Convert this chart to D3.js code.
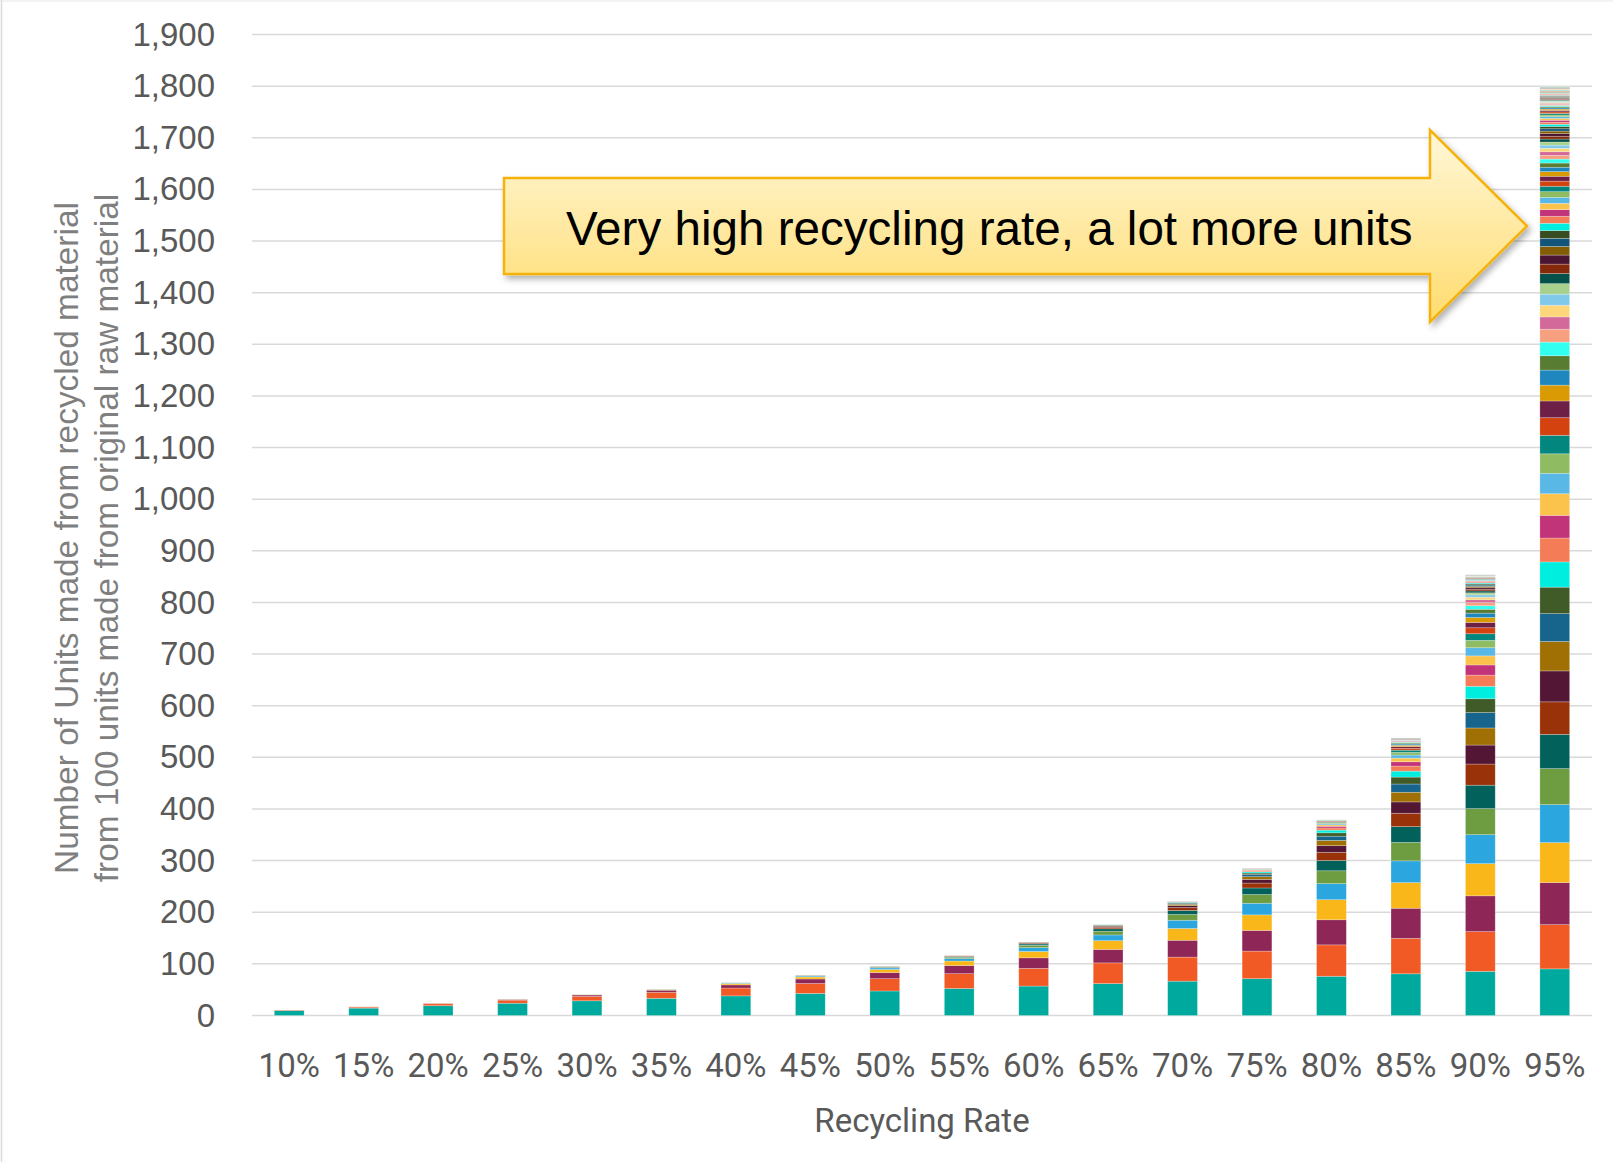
<!DOCTYPE html>
<html>
<head>
<meta charset="utf-8">
<script src="https://cdn.jsdelivr.net/npm/d3@7"></script>
<style>
  body { margin: 0; background: #fff; }
  svg { display: block; }
</style>
</head>
<body>
<svg id="chart"></svg>
<script>
// recycling rates (x categories)
const rates = ["10%", "15%", "20%", "25%", "30%", "35%", "40%", "45%", "50%",
               "55%", "60%", "65%", "70%", "75%", "80%", "85%", "90%", "95%"];

// units made in each recycling round, bottom segment first
const r10 = [9.5, 1.0, 0.1];
const r15 = [14.3, 2.1, 0.3, 0.05];
const r20 = [19, 3.8, 0.8, 0.2];
const r25 = [23.8, 5.9, 1.5, 0.4, 0.1];
const r30 = [28.5, 8.6, 2.6, 0.8, 0.2, 0.1];
const r35 = [33.3, 11.6, 4.1, 1.4, 0.5, 0.2];
const r40 = [38, 15.2, 6.1, 2.4, 1.0, 0.4, 0.2];
const r45 = [42.8, 19.2, 8.7, 3.9, 1.8, 0.8, 0.4, 0.2];
const r50 = [47.5, 23.8, 11.9, 5.9, 3.0, 1.5, 0.7, 0.4, 0.2];
const r55 = [52.3, 28.7, 15.8, 8.7, 4.8, 2.6, 1.4, 0.8, 0.4, 0.2];
const r60 = [57, 34.2, 20.5, 12.3, 7.4, 4.4, 2.7, 1.6, 1.0, 0.6, 0.3, 0.2];
const r65 = [61.8, 40.1, 26.1, 17.0, 11.0, 7.2, 4.7, 3.0, 2.0, 1.3, 0.8, 0.5, 0.4, 0.2];
const r70 = [66.5, 46.6, 32.6, 22.8, 16.0, 11.2, 7.8, 5.5, 3.8, 2.7, 1.9, 1.3, 0.9, 0.6, 0.5, 0.3, 0.2];
const r75 = [71.3, 53.4, 40.1, 30.1, 22.5, 16.9, 12.7, 9.5, 7.1, 5.3, 4.0, 3.0, 2.3, 1.7, 1.3, 1.0,
             0.7, 0.5, 0.4, 0.3, 0.2];
const r80 = [76, 60.8, 48.6, 38.9, 31.1, 24.9, 19.9, 15.9, 12.8, 10.2, 8.2, 6.5, 5.2, 4.2, 3.3, 2.7,
             2.1, 1.7, 1.4, 1.1, 0.9, 0.7, 0.6, 0.5, 0.4, 0.3];
const r85 = [80.8, 68.6, 58.3, 49.6, 42.2, 35.8, 30.5, 25.9, 22.0, 18.7, 15.9, 13.5, 11.5, 9.8, 8.3,
             7.1, 6.0, 5.1, 4.3, 3.7, 3.1, 2.7, 2.3, 1.9, 1.6, 1.4, 1.2, 1.0, 0.9, 0.7, 0.6, 0.5,
             0.4, 0.4, 0.3];
const r90 = [85.5, 77.0, 69.3, 62.3, 56.1, 50.5, 45.4, 40.9, 36.8, 33.1, 29.8, 26.8, 24.1, 21.7,
             19.6, 17.6, 15.8, 14.3, 12.8, 11.6, 10.4, 9.4, 8.4, 7.6, 6.8, 6.1, 5.5, 5.0, 4.5, 4.0,
             3.6, 3.3, 2.9, 2.6, 2.4, 2.1, 1.9, 1.7, 1.6, 1.4, 1.3, 1.1, 1.0, 0.9, 0.8, 0.7, 0.7,
             0.6, 0.5, 0.5, 0.4, 0.4, 0.4, 0.3, 0.3, 0.3, 0.2, 0.2, 0.2, 0.2, 0.2, 0.1];
const r95 = [90.3, 85.7, 81.5, 77.4, 73.5, 69.8, 66.3, 63.0, 59.9, 56.9, 54.0, 51.3, 48.8, 46.3,
             44.0, 41.8, 39.7, 37.7, 35.8, 34.1, 32.4, 30.7, 29.2, 27.7, 26.4, 25.0, 23.8, 22.6,
             21.5, 20.4, 19.4, 18.4, 17.5, 16.6, 15.8, 15.0, 14.2, 13.5, 12.9, 12.2, 11.6, 11.0,
             10.5, 9.9, 9.4, 9.0, 8.5, 8.1, 7.7, 7.3, 6.9, 6.6, 6.3, 6.0, 5.7, 5.4, 5.1, 4.9, 4.6,
             4.4, 4.2, 4.0, 3.8, 3.6, 3.4, 3.2, 3.1, 2.9, 2.8, 2.6, 2.5, 2.4, 2.2, 2.1, 2.0, 1.9,
             1.8, 1.7, 1.7, 1.6, 1.5, 1.4, 1.3, 1.3, 1.2, 1.2, 1.1, 1.0, 1.0, 0.9, 0.9, 0.8, 0.8,
             0.8, 0.7, 0.7, 0.7, 0.6, 0.6, 0.6, 0.5, 0.5, 0.5, 0.5, 0.4, 0.4, 0.4, 0.4, 0.3, 0.3,
             0.3, 0.3, 0.3, 0.3];

const stacks = [r10, r15, r20, r25, r30, r35, r40, r45, r50,
                r55, r60, r65, r70, r75, r80, r85, r90, r95];

const yTicks = [0, 100, 200, 300, 400, 500, 600, 700, 800, 900, 1000,
                1100, 1200, 1300, 1400, 1500, 1600, 1700, 1800, 1900];

// office-like series colours: base, darker, lighter, ...
const palette = [
  "#00a99d", "#f15a24", "#8e2757", "#f9b719", "#2ba6df", "#6e9c40",
  "#02625b", "#9a3209", "#531735", "#a07004", "#17648c", "#415b28",
  "#00eedf", "#f47c56", "#c2347a", "#fbc34c", "#59b8e6", "#8fbc62",
  "#03867d", "#d4430f", "#6e1f46", "#d99a04", "#1f87be", "#577c32",
  "#33fff0", "#f7a07f", "#d3689a", "#fdd57a", "#80c9eb", "#a8d08d",
  "#04504a", "#842a0b", "#4a1530", "#835c03", "#13557a", "#374c21"
];
const colorFor = i => i < 36 ? palette[i] : palette[12 + (i - 36) % 24];

const W = 1613, H = 1162;
const svg = d3.select("#chart").attr("width", W).attr("height", H);

// chart border (left / top edge visible)
svg.append("line").attr("x1", 1.5).attr("x2", 1.5).attr("y1", 0).attr("y2", H)
    .style("stroke", "#d9d9d9").style("stroke-width", 1.5);
svg.append("line").attr("x1", 0).attr("x2", W).attr("y1", 1).attr("y2", 1)
    .style("stroke", "#e6e6e6").style("stroke-width", 1);

let x = d3.scaleBand()
    .domain(rates)
    .range([252, 1592])
    .paddingInner(0.6)
    .paddingOuter(0.3);

let y = d3.scaleLinear()
    .domain([0, 1900])
    .range([1015.5, 34.5]);

// gridlines
svg.append("g")
    .selectAll("line")
    .data(yTicks)
    .join("line")
    .attr("x1", 252)
    .attr("x2", 1592)
    .attr("y1", d => y(d))
    .attr("y2", d => y(d))
    .style("stroke", "#d9d9d9")
    .style("stroke-width", 1.5);

// y axis labels
let yAxis = svg.append("g")
    .attr("transform", "translate(252,0)")
    .call(d3.axisLeft(y).tickValues(yTicks).tickFormat(d3.format(",")).tickSize(0).tickPadding(37));
yAxis.select(".domain").remove();
yAxis.selectAll("text")
    .style("font-family", "'Liberation Sans', Arial, sans-serif")
    .style("font-size", "33px")
    .style("fill", "#595959");

// x axis labels
let xAxis = svg.append("g")
    .attr("transform", "translate(0,1015.5)")
    .call(d3.axisBottom(x).tickSize(0));
xAxis.select(".domain").remove();
xAxis.selectAll("text")
    .attr("dy", null)
    .attr("y", 61.5)
    .style("font-family", "Roboto, sans-serif")
    .style("font-size", "33px")
    .style("fill", "#595959");

// stacked bars
let bars = svg.append("g");
stacks.forEach((vals, i) => {
    let tops = d3.cumsum(vals);
    bars.append("g")
        .selectAll("rect")
        .data(vals)
        .join("rect")
        .attr("x", x(rates[i]))
        .attr("width", x.bandwidth())
        .attr("y", (d, j) => y(tops[j]))
        .attr("height", d => y(0) - y(d))
        .attr("fill", (d, j) => colorFor(j))
        .style("stroke", "rgba(255,255,255,0.35)")
        .style("stroke-width", 0.7);
});

// axis titles
let yTitle = svg.append("g")
    .attr("transform", "rotate(-90)")
    .style("font-family", "'Liberation Sans', Arial, sans-serif")
    .style("font-size", "33.4px")
    .style("fill", "#7f7f7f")
    .attr("text-anchor", "middle");
yTitle.append("text").attr("x", -538).attr("y", 78)
    .text("Number of Units made from recycled material");
yTitle.append("text").attr("x", -538).attr("y", 118)
    .text("from 100 units made from original raw material");

svg.append("text")
    .attr("x", 922)
    .attr("y", 1132)
    .attr("text-anchor", "middle")
    .style("font-family", "Roboto, sans-serif")
    .style("font-size", "33px")
    .style("fill", "#595959")
    .text("Recycling Rate");

// callout arrow
let defs = svg.append("defs");
let grad = defs.append("linearGradient")
    .attr("id", "arrowFill")
    .attr("gradientUnits", "userSpaceOnUse")
    .attr("x1", 0).attr("x2", 0).attr("y1", 130).attr("y2", 322);
grad.append("stop").attr("offset", 0).attr("stop-color", "#fff7d8");
grad.append("stop").attr("offset", 1).attr("stop-color", "#ffdc6e");

let shadow = defs.append("filter").attr("id", "shadow")
    .attr("x", "-5%").attr("y", "-10%").attr("width", "115%").attr("height", "130%");
shadow.append("feDropShadow")
    .attr("dx", 3).attr("dy", 4).attr("stdDeviation", 3)
    .attr("flood-color", "#000").attr("flood-opacity", 0.3);

let arrowPts = [[504, 178], [1430, 178], [1430, 130], [1527, 226],
                [1430, 322], [1430, 274], [504, 274]];
svg.append("path")
    .attr("d", d3.line()(arrowPts) + "Z")
    .attr("fill", "url(#arrowFill)")
    .attr("filter", "url(#shadow)")
    .style("stroke", "#f5b20f")
    .style("stroke-width", 2.5)
    .style("stroke-linejoin", "miter");

svg.append("text")
    .attr("x", 566)
    .attr("y", 245)
    .style("font-family", "'Liberation Sans', Arial, sans-serif")
    .style("font-size", "47.6px")
    .style("fill", "#000")
    .text("Very high recycling rate, a lot more units");
</script>
</body>
</html>
